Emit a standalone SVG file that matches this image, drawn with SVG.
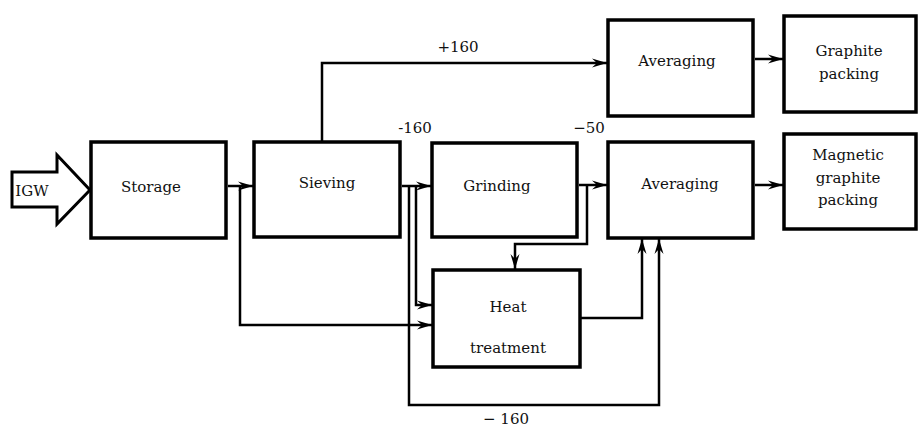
<svg xmlns="http://www.w3.org/2000/svg" width="918" height="430" viewBox="0 0 918 430">
<defs>
<marker id="ah" markerWidth="16" markerHeight="10" refX="15" refY="5" orient="auto" markerUnits="userSpaceOnUse">
<path d="M0,0.5 L15,5 L0,9.5 L5,5 Z" fill="#000"/>
</marker>
</defs>
<style>
.box{fill:#fff;stroke:#000;stroke-width:3.5}
.lbl{font-family:"DejaVu Serif","Liberation Serif",serif;font-size:15px;fill:#111;text-anchor:middle}
.con{fill:none;stroke:#000;stroke-width:2.5}
</style>
<rect width="918" height="430" fill="#fff"/>
<g id="igw">
<path class="box" d="M12,172 L57,172 L57,155 L90,190 L57,224 L57,207 L12,207 Z" style="stroke-width:3"/>
<text class="lbl" x="32" y="196">IGW</text>
</g>
<g id="storage">
<rect class="box" x="91" y="142" width="135" height="96"/>
<text class="lbl" x="151" y="192">Storage</text>
</g>
<g id="sieving">
<rect class="box" x="254" y="142" width="146" height="95"/>
<text class="lbl" x="327" y="188">Sieving</text>
</g>
<g id="grinding">
<rect class="box" x="432" y="143" width="145" height="94"/>
<text class="lbl" x="497" y="191">Grinding</text>
</g>
<g id="averaging2">
<rect class="box" x="608" y="142" width="145" height="96"/>
<text class="lbl" x="680" y="189">Averaging</text>
</g>
<g id="averaging1">
<rect class="box" x="608" y="20" width="145" height="96"/>
<text class="lbl" x="677" y="66">Averaging</text>
</g>
<g id="graphite">
<rect class="box" x="784" y="16" width="132" height="96"/>
<text class="lbl" x="849" y="56">Graphite</text>
<text class="lbl" x="849" y="79">packing</text>
</g>
<g id="magnetic">
<rect class="box" x="784" y="134" width="132" height="95"/>
<text class="lbl" x="848" y="160">Magnetic</text>
<text class="lbl" x="848" y="183">graphite</text>
<text class="lbl" x="848" y="205">packing</text>
</g>
<g id="heat">
<rect class="box" x="433" y="270" width="147" height="97"/>
<text class="lbl" x="508" y="312">Heat</text>
<text class="lbl" x="508" y="353">treatment</text>
</g>
<g id="connectors">
<path class="con" d="M228,186 L253,186" marker-end="url(#ah)"/>
<path class="con" d="M402,186 L431,186" marker-end="url(#ah)"/>
<path class="con" d="M579,185 L607,185" marker-end="url(#ah)"/>
<path class="con" d="M755,185 L783,185" marker-end="url(#ah)"/>
<path class="con" d="M755,59 L783,59" marker-end="url(#ah)"/>
<path class="con" d="M322,141 L322,63 L607,63" marker-end="url(#ah)"/>
<path class="con" d="M240,186 L240,325 L432,325" marker-end="url(#ah)"/>
<path class="con" d="M416,186 L416,305 L432,305" marker-end="url(#ah)"/>
<path class="con" d="M409,186 L409,405 L659,405 L659,239" marker-end="url(#ah)"/>
<path class="con" d="M587,185 L587,244 L515,244 L515,269" marker-end="url(#ah)"/>
<path class="con" d="M581,318 L642,318 L642,239" marker-end="url(#ah)"/>
<text class="lbl" x="458" y="52">+160</text>
<text class="lbl" x="415" y="133">-160</text>
<text class="lbl" x="589" y="133">−50</text>
<text class="lbl" x="506" y="424">− 160</text>
</g>
</svg>
